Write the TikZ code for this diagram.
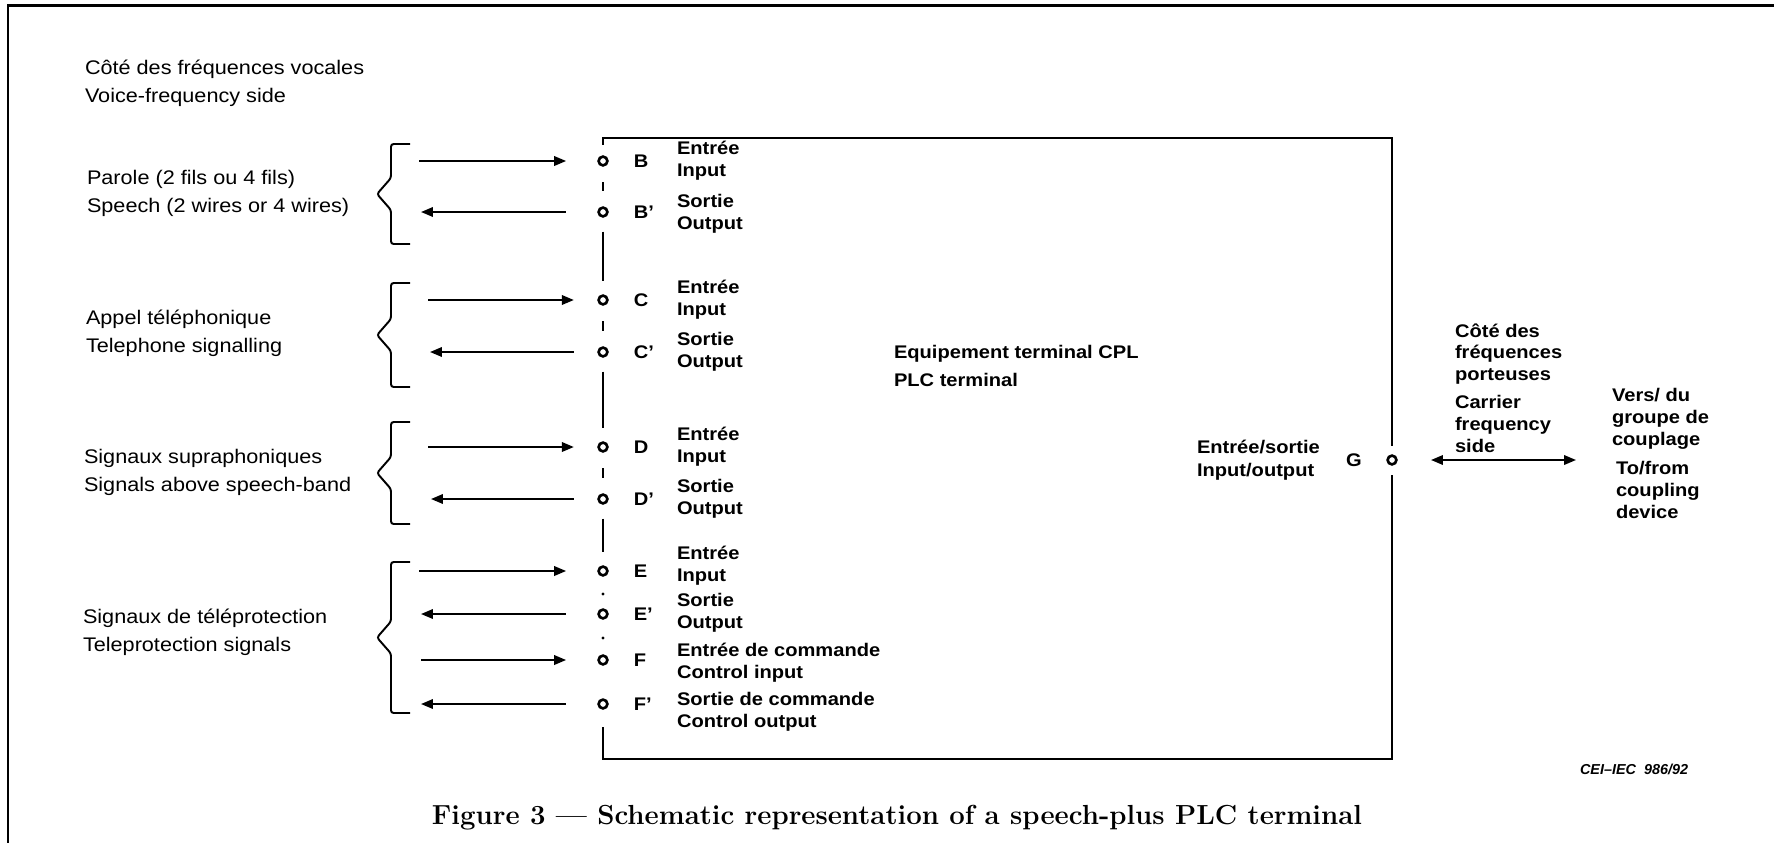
\documentclass[tikz,border=0pt]{standalone}
\usepackage{fontspec}
\setmainfont{Liberation Sans}
\newfontfamily\sidefont[FakeStretch=1.1]{Liberation Sans}
\newfontfamily\capfont{Latin Modern Roman}
\usetikzlibrary{arrows.meta, positioning}

\begin{document}
\begin{tikzpicture}[
    x=0.02cm, y=-0.02cm,
    >={Triangle[length=6.8pt, width=5.4pt]},
    every node/.style={inner sep=0pt, outer sep=0pt},
    ln/.style={line width=1.1pt},
    port/.style={circle, draw, line width=1.5pt, minimum size=5pt},
    into/.style={ln, ->},
    outof/.style={ln, <-},
    tick/.style={ln, line width=1.4pt, shorten <=9.6pt, shorten >=9.6pt},
    gapline/.style={ln, shorten <=8.7pt, shorten >=8.2pt},
    brace/.style={ln, rounded corners=1.5pt},
    grp/.style={align=left, anchor=west, font=\sidefont\fontsize{11.2}{15.9}\selectfont},
    lbl/.style={align=left, anchor=west, font=\sidefont\bfseries\fontsize{10.4}{12.4}\selectfont}
  ]
  \useasboundingbox (0,0) rectangle (1774,842);
  % outer frame (top and left only)
  \draw[line width=1.3pt] (1790,5.5) -- (7.7,5.5) -- (7.7,860);

  % voice-frequency side
  \node[grp] (vf) at (85,83) {Côté des fréquences vocales\\Voice-frequency side};
  \node[grp] (sp) at (87,193) {Parole (2 fils ou 4 fils)\\Speech (2 wires or 4 wires)};
  \node[grp] (ts) at (86,333) {Appel téléphonique\\Telephone signalling};
  \node[grp] (sa) at (84,472) {Signaux supraphoniques\\Signals above speech-band};
  \node[grp] (tp) at (83,632) {Signaux de téléprotection\\Teleprotection signals};

  \foreach \t/\b in {144/244, 283/387, 422/524, 562/713}
    \draw[brace] (410,\t) -- (391,\t) -- (391,{(\t+\b)/2-16}) -- (377,{(\t+\b)/2})
      -- (391,{(\t+\b)/2+16}) -- (391,\b) -- (410,\b);

  % ports on the left edge
  \foreach \n/\l/\y/\dy/\ta/\tb in {
      B/B/161/0/Entrée/Input,
      Bp/B’/212/2/Sortie/Output,
      C/C/300/0/Entrée/Input,
      Cp/C’/352/0/Sortie/Output,
      D/D/447/0/Entrée/Input,
      Dp/D’/499/0/Sortie/Output,
      E/E/571/-5/Entrée/Input,
      Ep/E’/614/-1/Sortie/Output,
      F/F/660/3/Entrée de commande/Control input,
      Fp/F’/704/8/Sortie de commande/Control output}
  {
    \node[port] (\n) at (603,\y) {};
    \node[lbl, right=15pt of \n] (k\n) {\l};
    \node[lbl] (t\n) at (677,{\y+(\dy)}) {\ta\\\tb};
  }

  % signal arrows
  \foreach \n/\s/\ax/\sh in {B/into/419/18.5pt, Bp/outof/421/18.5pt,
      C/into/428/14.1pt, Cp/outof/430/14.1pt, D/into/428/14.1pt, Dp/outof/431/14.1pt,
      E/into/419/18.5pt, Ep/outof/421/18.5pt, F/into/421/18.5pt, Fp/outof/421/18.5pt}
  {
    \coordinate (l\n) at (\ax,0 |- \n);
    \draw[\s, shorten >=\sh] (l\n) -- (\n);
  }

  % terminal box
  \node[port] (G) at (1392,460) {};
  \draw[ln] ([yshift=6.7pt]B.north) -- (603,138) -- (1392,138) -- ([yshift=5.5pt]G.north);
  \draw[ln] ([yshift=-6.2pt]G.south) -- (1392,759) -- (603,759) -- ([yshift=-10.7pt]Fp.south);
  \foreach \a/\b in {B/Bp, C/Cp, D/Dp}
    \draw[tick] (\a) -- (\b);
  \foreach \a/\b in {Bp/C, Cp/D, Dp/E}
    \draw[gapline] (\a) -- (\b);
  \fill (603,594) circle (0.9pt);
  \fill (603,638) circle (0.9pt);

  \node[lbl, font=\sidefont\bfseries\fontsize{10.4}{15.9}\selectfont] (plc) at (894,366)
    {Equipement terminal CPL\\PLC terminal};
  \node[lbl] (io) at (1197,460) {Entrée/sortie\\[1pt]Input/output};
  \node[lbl, anchor=center] (kG) at (1354,460) {G};

  % carrier-frequency side
  \coordinate (cpl) at (1576,460);
  \draw[ln, <->, shorten <=19.7pt] (G) -- (cpl);
  \node[lbl] (cf) at (1455,354) {Côté des\\fréquences\\porteuses};
  \node[lbl] (cr) at (1455,424) {Carrier\\frequency\\side};
  \node[lbl] (vers) at (1612,419) {Vers/ du\\groupe de\\couplage};
  \node[lbl] (to) at (1616,490) {To/from\\coupling\\device};

  \node[anchor=west, font=\bfseries\itshape\fontsize{8.2}{10}\selectfont] (ref) at (1580,769)
    {CEI–IEC~~986/92};
  \node[font=\capfont\bfseries\fontsize{15.7}{18}\selectfont] (cap) at (897,818)
    {Figure 3 — Schematic representation of a speech-plus PLC terminal};
\end{tikzpicture}
\end{document}
